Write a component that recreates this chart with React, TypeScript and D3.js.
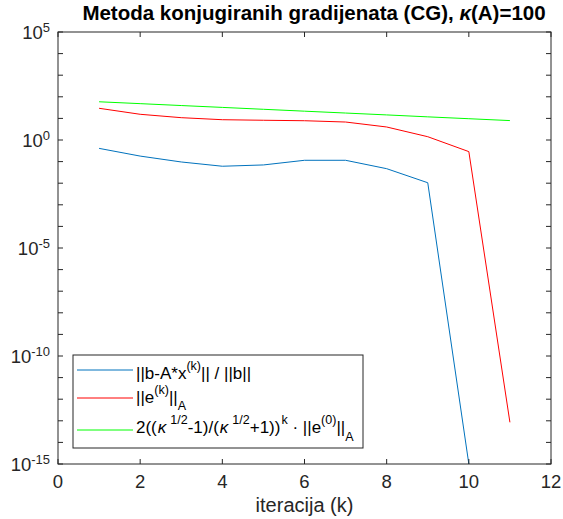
import React from "react";
import * as d3 from "d3";

const iterations = [1, 2, 3, 4, 5, 6, 7, 8, 9, 10, 11];
const residual = [0.41, 0.18, 0.096, 0.061, 0.07, 0.115, 0.115, 0.047, 0.0105, 1e-15];
const errorA = [29.4, 15.5, 10.8, 8.7, 8.2, 7.8, 6.8, 4.0, 1.42, 0.29, 8.5e-14];
const bound = [58.9, 48.2, 39.4, 32.3, 26.4, 21.6, 17.7, 14.5, 11.8, 9.68, 7.92];
const xTicks = [0, 2, 4, 6, 8, 10, 12];
const yLabelExps = [5, 0, -5, -10, -15];

const W = 563, H = 519;
const L = 58, R = 551, T = 32, B = 464;
const FONT = "'Liberation Sans', Arial, Helvetica, sans-serif";
const AX = "#262626";

export default function App() {
  const x = d3.scaleLinear().domain([0, 12]).range([L, R]);
  const y = d3.scaleLog().domain([1e-15, 1e5]).range([B, T]);
  const line = d3.line<[number, number]>().x(d => x(d[0])).y(d => y(d[1]));
  const series = [
    { vals: residual, color: "#0072BD" },
    { vals: errorA, color: "#FF0000" },
    { vals: bound, color: "#00FF00" },
  ];
  const decades = d3.range(-15, 6);
  const tl = 5;
  const lg = { x0: 73, y0: 355, x1: 363, y1: 448 };
  const rows = [370, 398, 430];
  const base = [379, 403, 433];
  return (
    <svg width={W} height={H} style={{ position: "absolute", left: 0, top: 0, background: "#fff" }} fontFamily={FONT}>
      <defs>
        <clipPath id="plot"><rect x={L} y={T} width={R - L} height={B - T} /></clipPath>
      </defs>
      <rect x={0} y={0} width={W} height={H} fill="#fff" />
      <g clipPath="url(#plot)">
        {series.map((s, i) => (
          <path key={i} d={line(s.vals.map((v, j) => [iterations[j], v]) as [number, number][]) || ""}
            fill="none" stroke={s.color} strokeWidth={1} />
        ))}
      </g>
      <rect x={L} y={T} width={R - L} height={B - T} fill="none" stroke={AX} strokeWidth={1} />
      {decades.map(e => (
        <g key={e} stroke={AX}>
          <line x1={L} x2={L + tl} y1={y(Math.pow(10, e))} y2={y(Math.pow(10, e))} />
          <line x1={R} x2={R - tl} y1={y(Math.pow(10, e))} y2={y(Math.pow(10, e))} />
        </g>
      ))}
      {xTicks.map(t => (
        <g key={t} stroke={AX}>
          <line x1={x(t)} x2={x(t)} y1={B} y2={B - tl} />
          <line x1={x(t)} x2={x(t)} y1={T} y2={T + tl} />
        </g>
      ))}
      {xTicks.map(t => (
        <text key={t} x={x(t)} y={488} textAnchor="middle" fontSize={18.5} fill={AX}>{t}</text>
      ))}
      {yLabelExps.map(e => (
        <text key={e} x={50} y={y(Math.pow(10, e)) + 7} textAnchor="end" fontSize={18.5} fill={AX}>
          10<tspan fontSize={13} dy={-7}>{e}</tspan>
        </text>
      ))}
      <text x={(L + R) / 2} y={512} textAnchor="middle" fontSize={20} fill={AX}>iteracija (k)</text>
      <text x={314} y={20} textAnchor="middle" fontSize={20.5} fontWeight="bold" fill="#000">
        Metoda konjugiranih gradijenata (CG), <tspan fontStyle="italic">κ</tspan>(A)=100
      </text>
      <rect x={lg.x0} y={lg.y0} width={lg.x1 - lg.x0} height={lg.y1 - lg.y0} fill="#fff" stroke={AX} strokeWidth={1} />
      {series.map((s, i) => (
        <line key={i} x1={77} x2={133} y1={rows[i]} y2={rows[i]} stroke={s.color} strokeWidth={1} />
      ))}
      <text x={136} y={base[0]} fontSize={17} fill="#000">
        ||b-A*x<tspan fontSize={12.5} dy={-9}>(k)</tspan><tspan dy={9}>|| / ||b||</tspan>
      </text>
      <text x={136} y={base[1]} fontSize={17} fill="#000">
        ||e<tspan fontSize={12.5} dy={-9}>(k)</tspan><tspan dy={9}>||</tspan><tspan fontSize={12.5} dy={7}>A</tspan>
      </text>
      <text x={136} y={base[2]} fontSize={17} fill="#000">
        2((<tspan fontStyle="italic" dx={1}>κ</tspan><tspan fontSize={12.5} dy={-9} dx={4}>1/2</tspan><tspan dy={9}>-1)/(</tspan><tspan fontStyle="italic" dx={1}>κ</tspan><tspan fontSize={12.5} dy={-9} dx={4}>1/2</tspan><tspan dy={9}>+1))</tspan><tspan fontSize={12.5} dy={-9} dx={1}>k</tspan><tspan dy={9}> · ||e</tspan><tspan fontSize={12.5} dy={-9}>(0)</tspan><tspan dy={9}>||</tspan><tspan fontSize={12.5} dy={8}>A</tspan>
      </text>
    </svg>
  );
}
